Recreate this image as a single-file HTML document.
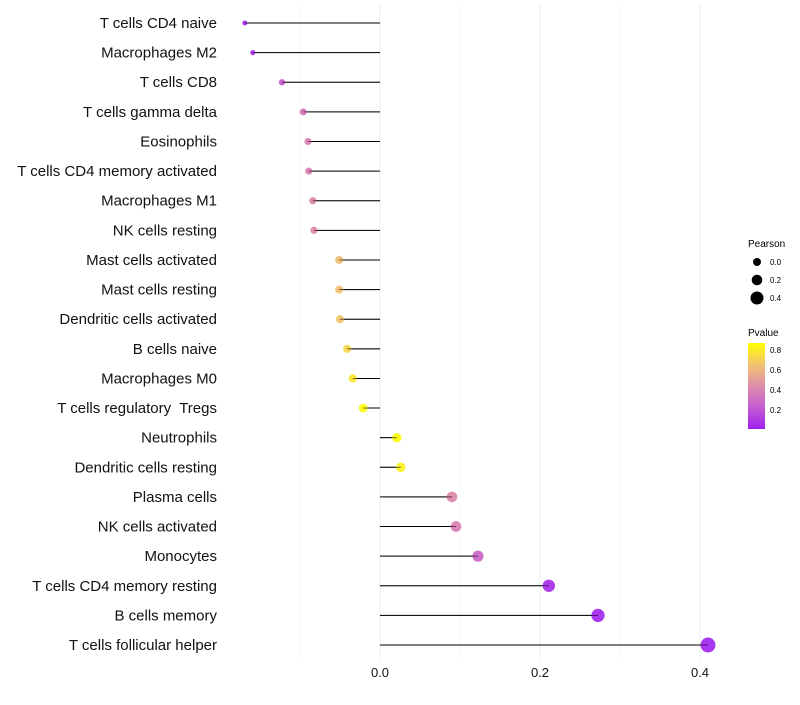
<!DOCTYPE html>
<html><head><meta charset="utf-8"><style>
body{margin:0;background:#fff;font-family:"Liberation Sans",sans-serif}
</style></head><body>
<svg id="chart" width="800" height="700" font-family="Liberation Sans, sans-serif">
<defs>
<linearGradient id="pgrad" x1="0" y1="1" x2="0" y2="0">
<stop offset="0" stop-color="#A020F0"/><stop offset="0.25" stop-color="#C35CD0"/><stop offset="0.5" stop-color="#DE8EAA"/><stop offset="0.75" stop-color="#F2C370"/><stop offset="1" stop-color="#FFFF00"/>
</linearGradient>
</defs>
<g id="grid"></g>
<g id="marks"></g>
<g id="ylabels"></g>
<g id="xlabels"></g>
<g>
<text x="748" y="247" font-size="10" fill="#000">Pearson</text>
<circle cx="757" cy="262" r="4" fill="#000"/><text x="770" y="265" font-size="8" fill="#000">0.0</text>
<circle cx="757" cy="280" r="5.3" fill="#000"/><text x="770" y="283" font-size="8" fill="#000">0.2</text>
<circle cx="757" cy="298" r="6.5" fill="#000"/><text x="770" y="301" font-size="8" fill="#000">0.4</text>
</g>
<g>
<text x="748" y="336" font-size="10" fill="#000">Pvalue</text>
<rect x="748" y="343" width="17" height="86" fill="url(#pgrad)"/>
<text x="770" y="353" font-size="8" fill="#000">0.8</text>
<text x="770" y="373" font-size="8" fill="#000">0.6</text>
<text x="770" y="393" font-size="8" fill="#000">0.4</text>
<text x="770" y="413" font-size="8" fill="#000">0.2</text>
</g>
</svg>
<script>
const cells=["T cells CD4 naive","Macrophages M2","T cells CD8","T cells gamma delta","Eosinophils","T cells CD4 memory activated","Macrophages M1","NK cells resting","Mast cells activated","Mast cells resting","Dendritic cells activated","B cells naive","Macrophages M0","T cells regulatory\u00a0 Tregs","Neutrophils","Dendritic cells resting","Plasma cells","NK cells activated","Monocytes","T cells CD4 memory resting","B cells memory","T cells follicular helper"];
const pearson=[-0.169,-0.159,-0.1225,-0.096,-0.09,-0.089,-0.084,-0.0825,-0.051,-0.051,-0.05,-0.041,-0.034,-0.021,0.021,0.026,0.09,0.095,0.1225,0.211,0.2725,0.41];
const pvalue=[0.02,0.05,0.2,0.33,0.36,0.36,0.4,0.41,0.62,0.62,0.64,0.72,0.78,0.86,0.86,0.82,0.4,0.36,0.24,0.03,0.01,0.0001];
const xTicks=[0,0.2,0.4];
const xMinor=[-0.1,0.1,0.3];
const NS="http://www.w3.org/2000/svg";
const X=v=>380+800*v;
const Y=i=>23+i*29.62;
const R=v=>Math.sqrt(Math.max(2,12.25+86*(v+0.096)));
const stops=[[0,[160,32,240]],[0.25,[198,90,200]],[0.5,[226,140,160]],[0.75,[244,196,100]],[1,[255,255,0]]];
function col(p){let t=Math.min(1,Math.max(0,p/0.87));for(let k=1;k<stops.length;k++){if(t<=stops[k][0]){const a=stops[k-1],b=stops[k],f=(t-a[0])/(b[0]-a[0]);return"rgb("+a[1].map((c,j)=>Math.round(c+(b[1][j]-c)*f)).join(",")+")";}}return"rgb(255,255,0)";}
function mk(tag,at,parent){const e=document.createElementNS(NS,tag);for(const k in at)e.setAttribute(k,at[k]);parent.appendChild(e);return e;}
const grid=document.getElementById('grid');
xMinor.forEach(v=>{const l=mk('line',{x1:X(v),x2:X(v),y1:5,y2:662,stroke:'#f3f3f3','stroke-width':0.6},grid);

});
xTicks.forEach(v=>{const l=mk('line',{x1:X(v),x2:X(v),y1:5,y2:662,stroke:'#eeeeee','stroke-width':1.1},grid);

});
const marks=document.getElementById('marks'),yl=document.getElementById('ylabels'),xl=document.getElementById('xlabels');
cells.forEach((c,i)=>{
const s=mk('line',{x1:X(0),x2:X(pearson[i]),y1:Y(i),y2:Y(i),stroke:'#000','stroke-width':1},marks);


const d=mk('circle',{cx:X(pearson[i]),cy:Y(i),r:R(pearson[i]),fill:col(pvalue[i]),'fill-opacity':0.9},marks);


const s2=mk('line',{x1:X(0),x2:X(pearson[i]),y1:Y(i),y2:Y(i),stroke:'#000','stroke-width':0.8,'stroke-opacity':0.6},marks);


const t=mk('text',{x:217,y:Y(i)+5,'text-anchor':'end','font-size':15,fill:'#111'},yl);
t.textContent=c;


});
xTicks.forEach(v=>{const t=mk('text',{x:X(v),y:677,'text-anchor':'middle','font-size':13,fill:'#111'},xl);
t.textContent=v.toFixed(1);

});
</script>
</body></html>
